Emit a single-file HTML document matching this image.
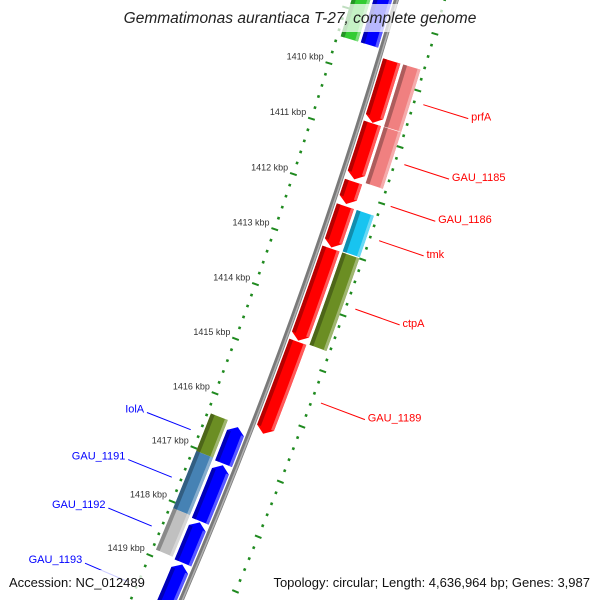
<!DOCTYPE html>
<html><head><meta charset="utf-8"><style>
html,body{margin:0;padding:0;background:#fff;overflow:hidden;width:600px;height:600px}
svg{display:block;font-family:"Liberation Sans",sans-serif;overflow:hidden}
</style></head><body>
<svg id="map" width="600" height="600" viewBox="0 0 600 600">
<g id="ticks"></g>
<g id="backbone"></g>
<g id="feats"></g>
<g id="labels"></g>
<rect x="118" y="4" width="364" height="28" fill="#fff" fill-opacity="0.72"/>
<text x="300" y="23" text-anchor="middle" font-size="15.5" font-style="italic" fill="#222">Gemmatimonas aurantiaca T-27, complete genome</text>
<rect x="3" y="570" width="147" height="25" fill="#fff" fill-opacity="0.8"/>
<text x="9" y="587" font-size="13" fill="#111">Accession: NC_012489</text>
<rect x="255" y="570" width="340" height="25" fill="#fff" fill-opacity="0.8"/>
<text x="590" y="587" text-anchor="end" font-size="13" fill="#111">Topology: circular; Length: 4,636,964 bp; Genes: 3,987</text>
</svg>
<script>
// ---- data ----
const featNames  = ['', '', 'prfA', 'GAU_1185', 'GAU_1186', 'tmk', 'ctpA', 'GAU_1189', '', '', '', '', 'IolA', 'GAU_1191', 'GAU_1192', 'GAU_1193', '', '', ''];
const featStarts = [1408.3, 1408.3, 1409.65, 1410.76, 1411.80, 1412.24, 1413.00, 1414.68, 1409.65, 1410.76, 1412.24, 1413.00, 1416.40, 1417.10, 1418.15, 1418.93, 1416.35, 1417.04, 1418.10];
const featEnds   = [1409.50, 1409.50, 1410.75, 1411.76, 1412.20, 1412.98, 1414.66, 1416.35, 1410.75, 1411.76, 1412.98, 1414.66, 1417.07, 1418.13, 1418.90, 1420.20, 1417.04, 1418.10, 1418.87];
const featStrand = [0, -1, 1, 1, 1, 1, 1, 1, 0, 0, 0, 0, -1, -1, -1, -1, 0, 0, 0];
const featTrack  = [-2, -1, 1, 1, 1, 1, 1, 1, 2, 2, 2, 2, -1, -1, -1, -1, -2, -2, -2];
const featColors = ['#33cc33', '#0000ff', '#ff0000', '#ff0000', '#ff0000', '#ff0000', '#ff0000', '#ff0000', '#f08080', '#f08080', '#18c4f0', '#6b8e23', '#0000ff', '#0000ff', '#0000ff', '#0000ff', '#6b8e23', '#4682b4', '#c0c0c0'];
const tickLabels = [1410, 1411, 1412, 1413, 1414, 1415, 1416, 1417, 1418, 1419];

// ---- axis (circular) ----
const CX = -4620.7, CY = -1459.5, R0 = 5225;
function ang(k){ return (17.10 + (k - 1410) * 0.644) * Math.PI / 180; }
function P(k, off){ const a = ang(k), r = R0 + off; return [CX + r * Math.cos(a), CY + r * Math.sin(a)]; }
const NS = 'http://www.w3.org/2000/svg';
function mk(tag, attrs, parent){ const e = document.createElementNS(NS, tag); for (const k in attrs) e.setAttribute(k, attrs[k]); parent.appendChild(e); return e; }
function edge(k0, k1, off){ const pts = []; for (let i = 0; i <= 6; i++){ pts.push(P(k0 + (k1 - k0) * i / 6, off)); } return pts; }
function ptsStr(p){ return p.map(q => q[0].toFixed(2) + ',' + q[1].toFixed(2)).join(' '); }

// ---- backbone ----
const bb = document.getElementById('backbone');
function arcPath(off){ const a = P(1408, off), b = P(1420.8, off); return 'M' + a[0] + ',' + a[1] + ' A' + (R0 + off) + ',' + (R0 + off) + ' 0 0 1 ' + b[0] + ',' + b[1]; }
const bbDark = mk('path', {d: arcPath(0), fill: 'none', stroke: '#7a7a7a', 'stroke-width': 5}, bb);


const bbLight = mk('path', {d: arcPath(1), fill: 'none', stroke: '#b0b0b0', 'stroke-width': 1.5}, bb);



// ---- ticks ----
const tg = document.getElementById('ticks');
for (let i = 0; i <= 62; i++){
  const k = 1408.2 + i * 0.2;
  const major = Math.abs(k - Math.round(k)) < 0.01;
  [-1, 1].forEach(side => {
    const a = major ? P(k, side * 43) : P(k, side * 45.2);
    const b = major ? P(k, side * 50) : P(k, side * 47.8);
    const t = mk('line', {x1: a[0], y1: a[1], x2: b[0], y2: b[1], stroke: '#1f8a1f', 'stroke-width': major ? 2 : 2.6}, tg);
    
    
  });
}
tickLabels.forEach(k => {
  const p = P(k, -52);
  const t = mk('text', {x: p[0], y: p[1] - 2, 'text-anchor': 'end', 'font-size': 9, fill: '#333'}, tg);
  t.textContent = k + ' kbp';
  
  
});

// ---- features ----
const fg = document.getElementById('feats');
function shade(hex, f){ const n = parseInt(hex.slice(1), 16); let r = n >> 16, g = (n >> 8) & 255, b = n & 255;
  if (f < 0){ r *= 1 + f; g *= 1 + f; b *= 1 + f; } else { r += (255 - r) * f; g += (255 - g) * f; b += (255 - b) * f; }
  return 'rgb(' + Math.round(r) + ',' + Math.round(g) + ',' + Math.round(b) + ')'; }
featStarts.forEach((s, i) => {
  const e = featEnds[i], tr = featTrack[i], st = featStrand[i], col = featColors[i];
  const lo = tr > 0 ? (tr === 1 ? 4 : 25) : (tr === -1 ? -22 : -43);
  const hi = lo + 18, mid = (lo + hi) / 2, h = 0.11;
  let pts;
  let bs = s, be = e;
  if (st === 1){ be = e - h; pts = edge(s, be, lo).concat([P(e, mid)], edge(be, s, hi)); }
  else if (st === -1){ bs = s + h; pts = [P(s, mid)].concat(edge(bs, e, lo), edge(e, bs, hi)); }
  else { pts = edge(s, e, lo).concat(edge(e, s, hi)); }
  const g = mk('g', {}, fg);
  
  
  mk('polygon', {points: ptsStr(pts), fill: col}, g);
  mk('polygon', {points: ptsStr(edge(bs, be, lo).concat(edge(be, bs, lo + 4))), fill: shade(col, -0.28)}, g);
  mk('polygon', {points: ptsStr(edge(bs, be, hi - 3).concat(edge(be, bs, hi))), fill: shade(col, 0.35)}, g);
});

// ---- labels ----
const lg = document.getElementById('labels');
featNames.forEach((nm, i) => {
  if (!nm) return;
  const m = (featStarts[i] + featEnds[i]) / 2;
  const side = featTrack[i] > 0 ? 1 : -1;
  const col = side > 0 ? '#ff0000' : '#0000ff';
  const a = P(m, side * 56), b = P(m, side * 103), c = P(m, side * 106);
  const l = mk('line', {x1: a[0], y1: a[1], x2: b[0], y2: b[1], stroke: col, 'stroke-width': 1}, lg);
  
  
  const t = mk('text', {x: c[0], y: c[1] + 1, 'text-anchor': side > 0 ? 'start' : 'end', 'font-size': 11, fill: col}, lg);
  t.textContent = nm;
  
  
});
</script>
</body></html>
